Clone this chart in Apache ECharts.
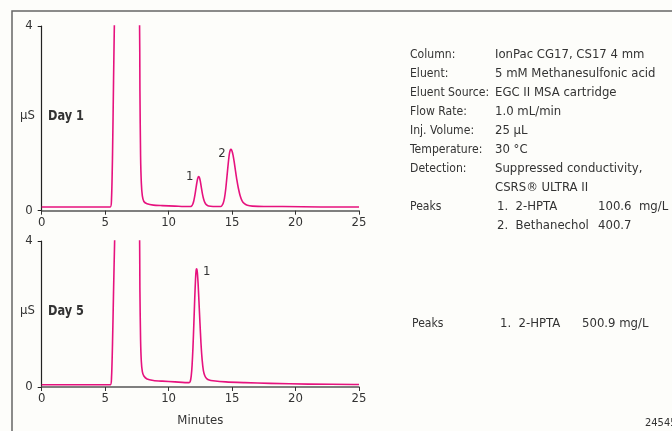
<!DOCTYPE html>
<html><head><meta charset="utf-8">
<script src="https://cdn.jsdelivr.net/npm/echarts@6/dist/echarts.min.js"></script>
<style>html,body{margin:0;padding:0;background:#fdfdfa;}#c{width:672px;height:431px;}</style>
</head><body><div id="c"></div>
<script>
// Day 1 trace [minutes, µS]
var day1 = [[0,0.08],[5.4,0.08],[5.5,0.25],[5.58,1.2],[5.66,2.8],[5.74,4.3],[5.85,6],[6.2,8],[7.4,8],[7.7,4.4],[7.74,2.6],[7.79,1.2],[7.85,0.6],[7.93,0.32],[8.05,0.2],[8.3,0.15],[8.8,0.12],[9.5,0.11],[10.5,0.1],[11.5,0.09],
  [11.7,0.09],[11.8,0.1],[11.9,0.14],[11.98,0.21],[12.06,0.32],[12.14,0.46],[12.22,0.6],[12.29,0.7],[12.37,0.74],[12.44,0.71],[12.51,0.62],[12.58,0.5],[12.66,0.37],[12.75,0.26],[12.85,0.18],[12.97,0.13],[13.15,0.1],[13.5,0.09],
  [14.1,0.09],[14.2,0.11],[14.3,0.16],[14.4,0.27],[14.5,0.47],[14.6,0.75],[14.7,1.03],[14.78,1.22],[14.85,1.31],[14.92,1.33],[15.0,1.29],[15.08,1.2],[15.17,1.05],[15.27,0.86],[15.38,0.66],[15.5,0.48],[15.63,0.33],[15.78,0.22],[15.95,0.16],[16.2,0.12],[16.6,0.1],
  [17.5,0.09],[19,0.09],[22,0.08],[25,0.08]];
// Day 5 trace [minutes, µS]
var day5 = [[0,0.06],[5.4,0.06],[5.5,0.25],[5.58,1.2],[5.66,2.6],[5.74,3.9],[5.85,5.5],[6.2,8],[7.4,8],[7.7,4.4],[7.74,2.6],[7.79,1.3],[7.85,0.7],[7.93,0.42],[8.05,0.3],[8.3,0.22],[8.8,0.18],[9.5,0.16],[10.5,0.14],[11.6,0.12],
  [11.7,0.15],[11.78,0.3],[11.85,0.6],[11.92,1.1],[11.99,1.75],[12.06,2.45],[12.12,2.95],[12.17,3.2],[12.21,3.24],[12.26,3.15],[12.32,2.85],[12.39,2.35],[12.47,1.75],[12.55,1.2],[12.64,0.75],[12.74,0.45],[12.86,0.3],[13.0,0.23],[13.2,0.19],[13.5,0.17],
  [14.5,0.14],[16,0.12],[18,0.1],[21,0.08],[24.6,0.07],[25,0.07]];
// peak annotations
var peaks1 = [{name:'1', coord:[12.37,0.74], off:[-9,0]},{name:'2', coord:[14.92,1.33], off:[-9,4]}];
var peaks5 = [{name:'1', coord:[12.21,3.24], off:[10,3]}];
var xTicks = [0,5,10,15,20,25];
var yTicks = [0,4];

var FONT = "'DejaVu Sans Condensed','Liberation Sans',sans-serif";
var LINE = '#e6127e';
var TXT = '#333';

function mp(list){
  return {symbol:'circle',symbolSize:0,silent:true,
    data:list.map(function(p){return {name:p.name,coord:p.coord,
      label:{show:true,formatter:p.name,offset:p.off,position:'inside',color:TXT,fontSize:13,fontFamily:FONT}};})};
}
function xAx(gi, withName){
  return {type:'value',gridIndex:gi,min:xTicks[0],max:xTicks[xTicks.length-1],interval:5,
    axisLine:{show:true,lineStyle:{color:'#555',width:1.5}},
    axisTick:{show:true,length:4,lineStyle:{color:'#333'}},
    axisLabel:{color:TXT,fontSize:13,fontFamily:FONT,margin:5},
    splitLine:{show:false},
    name:withName?'Minutes':'',nameLocation:'middle',nameGap:27,
    nameTextStyle:{color:TXT,fontSize:13,fontFamily:FONT}};
}
function yAx(gi){
  return {type:'value',gridIndex:gi,min:yTicks[0],max:yTicks[1],interval:4,
    axisLine:{show:true,lineStyle:{color:'#222',width:1.2}},
    axisTick:{show:true,length:4,lineStyle:{color:'#222'}},
    axisLabel:{color:TXT,fontSize:13,fontFamily:FONT,margin:9},
    splitLine:{show:false}};
}
var chart = echarts.init(document.getElementById('c'));
var info1 = [
  ['Column:','IonPac CG17, CS17 4 mm'],
  ['Eluent:','5 mM Methanesulfonic acid'],
  ['Eluent Source:','EGC II MSA cartridge'],
  ['Flow Rate:','1.0 mL/min'],
  ['Inj. Volume:','25 µL'],
  ['Temperature:','30 °C'],
  ['Detection:','Suppressed conductivity,'],
  ['','CSRS® ULTRA II']
];
var g = [];
g.push({type:'rect',shape:{x:12,y:11,width:700,height:500},style:{fill:'none',stroke:'#666',lineWidth:1.5},silent:true});
var ts = function(x,y,t,extra,sx){var s={text:t,x:0,y:0,fill:TXT,font:'13px '+FONT,textVerticalAlign:'middle'};for(var k in extra)s[k]=extra[k];return {type:'text',x:x,y:y,scaleX:sx||1,style:s,silent:true};};
info1.forEach(function(r,i){
  var y = 55 + i*19;
  if(r[0]) g.push(ts(410,y,r[0],{},0.93));
  g.push(ts(495,y,r[1]));
});
g.push(ts(410,207,'Peaks',{},0.93));
g.push(ts(497,207,'1.  2-HPTA'));
g.push(ts(598,207,'100.6  mg/L'));
g.push(ts(497,226,'2.  Bethanechol'));
g.push(ts(598,226,'400.7'));
g.push(ts(412,324,'Peaks',{},0.93));
g.push(ts(500,324,'1.  2-HPTA'));
g.push(ts(582,324,'500.9 mg/L'));
g.push(ts(645,423,'24545',{font:'11px '+FONT}));
g.push(ts(20,116,'µS'));
g.push(ts(20,311,'µS'));
g.push(ts(48,116,'Day 1',{font:'bold 14px '+FONT},0.9));
g.push(ts(48,311,'Day 5',{font:'bold 14px '+FONT},0.9));

chart.setOption({
  backgroundColor:'#fdfdfa',
  animation:false,
  grid:[{left:41.7,width:317.3,top:26,height:184.7},{left:41.7,width:317.3,top:241,height:146}],
  xAxis:[xAx(0,false),xAx(1,true)],
  yAxis:[yAx(0),yAx(1)],
  graphic:g,
  series:[
    {type:'line',xAxisIndex:0,yAxisIndex:0,data:day1,showSymbol:false,smooth:0.25,clip:true,
     lineStyle:{color:LINE,width:1.6,join:'round'},markPoint:mp(peaks1)},
    {type:'line',xAxisIndex:1,yAxisIndex:1,data:day5,showSymbol:false,smooth:0.25,clip:true,
     lineStyle:{color:LINE,width:1.6,join:'round'},markPoint:mp(peaks5)}
  ]
});
</script></body></html>
